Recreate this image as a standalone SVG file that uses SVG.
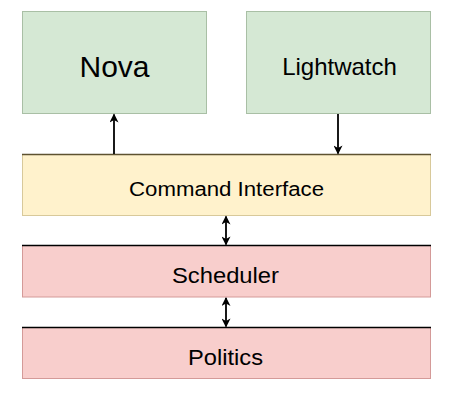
<svg xmlns="http://www.w3.org/2000/svg" width="455" height="400" viewBox="0 0 455 400">
<defs>
<style>
text{font-family:"Liberation Sans",Arial,sans-serif;fill:#000;text-anchor:middle}
.g{fill:#d5e8d4;stroke:#a9bfa5;stroke-width:1}
.y{fill:#fff2cc;stroke:#d8c99a;stroke-width:1}
.r{fill:#f8cecc;stroke:#d49a98;stroke-width:1}
.top{stroke:#000;stroke-width:1.6}
.ytop{stroke:#5e5230;stroke-width:1.6}
.c{stroke:#000;stroke-width:1.8;fill:none}
</style>
<marker id="ah" viewBox="0 0 10 10" refX="9" refY="5" markerWidth="10" markerHeight="9" markerUnits="userSpaceOnUse" orient="auto-start-reverse">
<path d="M0,0 L10,5 L0,10 L3,5 Z" fill="#000"/>
</marker>
</defs>
<rect width="455" height="400" fill="#fff"/>
<g id="nova">
<rect class="g" x="22.5" y="11.5" width="184" height="102"/>
<text x="114.5" y="77" font-size="30">Nova</text>
</g>
<g id="lightwatch">
<rect class="g" x="246.5" y="11.5" width="184" height="102"/>
<text x="339.5" y="74.5" font-size="24">Lightwatch</text>
</g>
<g id="command-interface">
<rect class="y" x="22.5" y="154.5" width="408" height="61"/>
<line class="ytop" x1="22" y1="154.5" x2="431" y2="154.5"/>
<text x="226.5" y="196" font-size="20" textLength="195" lengthAdjust="spacingAndGlyphs">Command Interface</text>
</g>
<g id="scheduler">
<rect class="r" x="22.5" y="245.5" width="408" height="51.5"/>
<line class="top" x1="22" y1="245.5" x2="431" y2="245.5"/>
<text x="225.5" y="283" font-size="22" textLength="107" lengthAdjust="spacingAndGlyphs">Scheduler</text>
</g>
<g id="politics">
<rect class="r" x="22.5" y="327.5" width="408" height="51"/>
<line class="top" x1="22" y1="327.5" x2="431" y2="327.5"/>
<text x="225.5" y="365" font-size="21.5" textLength="75" lengthAdjust="spacingAndGlyphs">Politics</text>
</g>
<g id="connectors">
<line class="c" x1="114" y1="154" x2="114" y2="114.5" marker-end="url(#ah)"/>
<line class="c" x1="338" y1="114" x2="338" y2="153.5" marker-end="url(#ah)"/>
<line class="c" x1="226" y1="216.5" x2="226" y2="244.5" marker-start="url(#ah)" marker-end="url(#ah)"/>
<line class="c" x1="226" y1="298" x2="226" y2="326.5" marker-start="url(#ah)" marker-end="url(#ah)"/>
</g>
</svg>
